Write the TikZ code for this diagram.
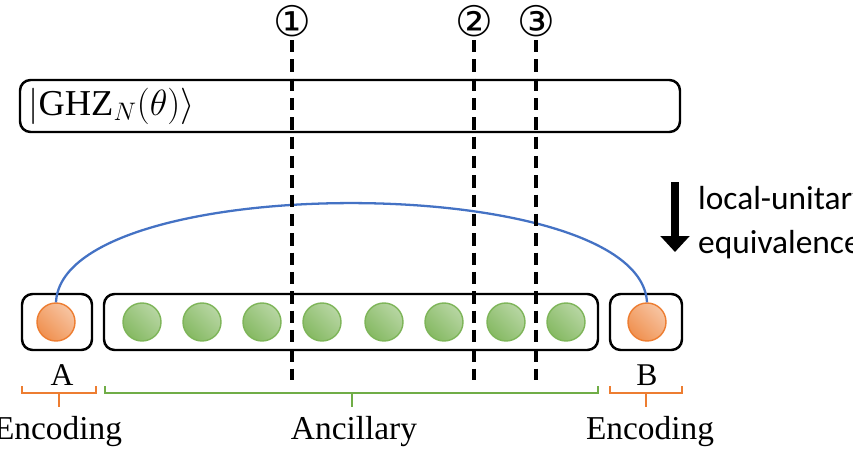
\documentclass[tikz,border=0pt]{standalone}
\usepackage{fontspec}
\setmainfont{Liberation Serif}
\newfontfamily\calfont{Carlito}
\newfontfamily\symfont{DejaVu Sans}
\usetikzlibrary{arrows.meta,positioning}
\definecolor{encorange}{RGB}{237,125,49}
\definecolor{ancgreen}{RGB}{112,173,71}
\definecolor{linkblue}{RGB}{68,114,196}
\tikzstyle{reg}=[draw,line width=1.4pt,rounded corners=6pt]
\tikzstyle{cut}=[line width=2.2pt,dash pattern=on 7pt off 4pt]

\begin{document}
\begin{tikzpicture}[x=0.02cm,y=-0.02cm,
	enc/.style={circle,draw=encorange,thick,minimum size=38*0.02cm,inner sep=0pt,
		left color=encorange!45,right color=encorange!85,shading angle=-45},
	anc/.style={circle,draw=ancgreen!90,thick,minimum size=38*0.02cm,inner sep=0pt,
		left color=ancgreen!50,right color=ancgreen!85,shading angle=-45}]
\useasboundingbox (0,0) rectangle (853,450);

% GHZ register
\node (ghz) [reg,minimum width=660*0.02cm,minimum height=52*0.02cm] at (350,106) {};
\node [anchor=west,font=\huge,xshift=2pt] at (ghz.west) {$|\mathrm{GHZ}_N(\theta)\rangle$};

% qubits
\node (qa) [enc] at (56,322) {};
\node (qb) [enc] at (647,322) {};
\foreach \i/\x in {1/142,2/202,3/262,4/322,5/384,6/444,7/506,8/566}
	\node (g\i) [anc] at (\x,322) {};
\draw [reg] (22,294) rectangle (92,350);
\draw [reg] (104,294) rectangle (598,350);
\draw [reg] (610,294) rectangle (682,350);

% link
\draw [linkblue,line width=1.3pt] (qa.north) .. controls (62,170) and (640,170) .. (qb.north);

% cuts
\foreach \x/\s in {292/①,474/②,536/③}{
	\draw [cut] (\x,40) -- (\x,380);
	\node [font=\symfont\fontsize{24}{24}\selectfont] at (\x,21) {\s};
}

% equivalence arrow
\coordinate (at) at (675,182);
\coordinate (ab) at (675,252);
\draw [-{Triangle[length=9pt,width=16pt]},line width=5pt] (at) -- (ab);
\node [anchor=west,align=left,font=\calfont\fontsize{19}{25}\selectfont] at (692,223) {local-unitary\\equivalence};

% labels and braces
\node [font=\fontsize{18}{18}\selectfont] at (62,375) {A};
\node [font=\fontsize{18}{18}\selectfont] at (647,375) {B};
\draw [encorange,thick] (22,386) |- (96,393) -- (96,386) (59,393) -- (59,407);
\draw [ancgreen,thick] (105,386) |- (598,393) -- (598,386) (352,393) -- (352,407);
\draw [encorange,thick] (610,386) |- (682,393) -- (682,386) (646,393) -- (646,407);
\node [font=\fontsize{19}{19}\selectfont] at (58,432) {Encoding};
\node [font=\fontsize{19}{19}\selectfont] at (354,432) {Ancillary};
\node [font=\fontsize{19}{19}\selectfont] at (650,432) {Encoding};
\end{tikzpicture}
\end{document}
